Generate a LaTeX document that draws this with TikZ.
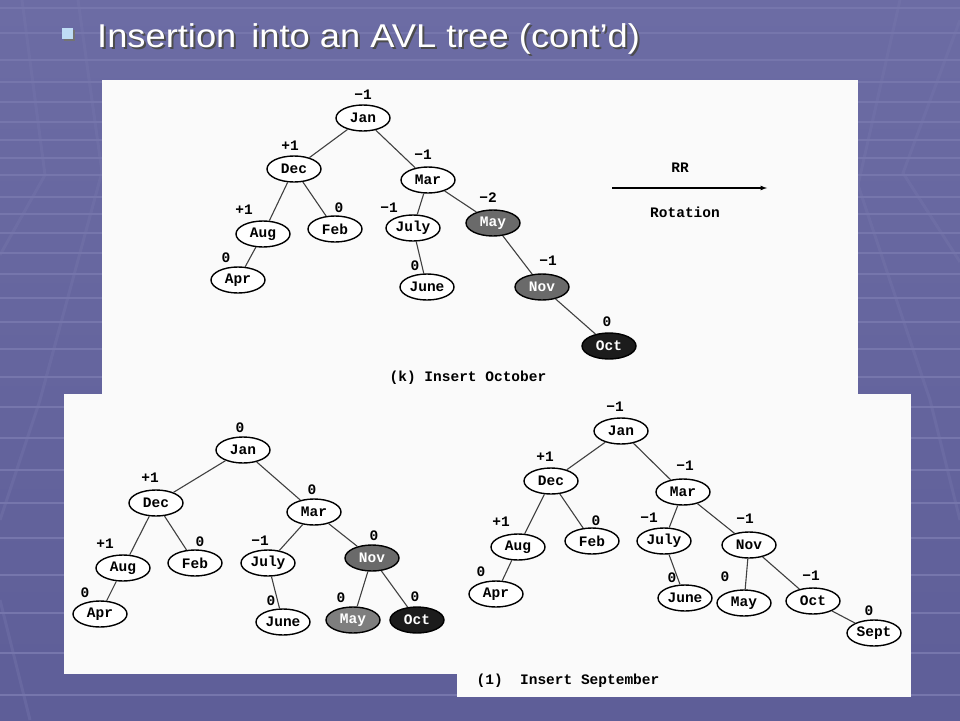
\documentclass[tikz,border=0pt]{standalone}
\usepackage{fontspec}
\setmainfont{Liberation Sans}
\newfontfamily\scanfont{Liberation Mono}
\newfontfamily\titlefont{Liberation Sans}[FakeStretch=1.1]
\usetikzlibrary{%
  arrows,%
  shapes.geometric%
}
\definecolor{bgtop}{HTML}{6C6CA4}
\definecolor{bgmid}{HTML}{4E4E80}
\definecolor{bgbot}{HTML}{5E5E98}
\definecolor{bgline}{HTML}{7676AC}
\definecolor{bulletblue}{HTML}{BFDDF5}
\definecolor{paper}{HTML}{FAFAFA}
\definecolor{scangrey}{HTML}{6A6A6A}
\definecolor{scanlight}{HTML}{7E7E7E}
\definecolor{scanblack}{HTML}{1C1C1C}
\definecolor{branchgrey}{HTML}{404040}

\begin{document}
\begin{tikzpicture}[x=1pt,y=-1pt,
  avlnode/.style={draw,ellipse,line width=1.4pt,minimum width=54pt,
    minimum height=26pt,inner sep=0pt,fill=white,
    font=\scanfont\bfseries\fontsize{14.5}{14.5}\selectfont},
  greynode/.style={avlnode,fill=scangrey,text=white},
  lightnode/.style={avlnode,fill=scanlight,text=white},
  blacknode/.style={avlnode,fill=scanblack,text=white},
  balance/.style={inner sep=0pt,font=\scanfont\bfseries\fontsize{14.5}{14.5}\selectfont},
  branch/.style={draw=branchgrey,line width=1.1pt},
  stripe/.style={bgline,line width=1.2pt},
  chevron/.style={bgline,line width=3pt,opacity=0.4}]
  \useasboundingbox (0,0) rectangle (960,720);

  % slide background
  \shade[top color=bgtop,middle color=bgmid,bottom color=bgbot] (0,0) rectangle (960,720);
  \foreach \y in {8,33,60,82,102,122,140,158,175,197,214,233,253,274,298,322,349,377,
    407,438,470,503,538,575,613,653,695}
    \draw[stripe] (0,\y) -- (960,\y);
  \draw[chevron] (22,0) -- (45,175) -- (0,255);
  \draw[chevron] (78,0) -- (102,172) -- (40,400) -- (0,520);
  \draw[chevron] (960,20) -- (903,173) -- (960,262);
  \draw[chevron] (900,0) -- (858,185) -- (930,400) -- (960,520);
  \draw[chevron] (0,600) -- (30,720);

  % title
  \node[fill=black!55,minimum size=11pt,inner sep=0pt] (bulletshadow) at (69.5,35.5) {};
  \node[fill=bulletblue,minimum size=11pt,inner sep=0pt] (bullet) at (67.5,33.5) {};
  \node[anchor=base west,inner sep=0pt,text=black!70,
    font=\titlefont\fontsize{33}{40}\selectfont] (titleshadow) at (99,49)
  {Insertion\hspace{0.45em}into an AVL tree (cont’d)};
  \node[anchor=base west,inner sep=0pt,text=white,
    font=\titlefont\fontsize{33}{40}\selectfont] (title) at (97,47)
  {Insertion\hspace{0.45em}into an AVL tree (cont’d)};

  % (k) insert October
  \fill[paper] (102,80) rectangle (858,394);
  \node[avlnode] (kJan) at (363,118) {Jan};
  \node[avlnode] (kDec) at (294,169) {Dec};
  \node[avlnode] (kMar) at (428,180) {Mar};
  \node[avlnode] (kAug) at (263,234) {Aug};
  \node[avlnode] (kFeb) at (335,229) {Feb};
  \node[avlnode] (kJuly) at (413,228) {July};
  \node[avlnode] (kApr) at (238,280) {Apr};
  \node[avlnode] (kJune) at (427,287) {June};
  \node[greynode] (kMay) at (493,223) {May};
  \node[greynode] (kNov) at (542,287) {Nov};
  \node[blacknode] (kOct) at (609,346) {Oct};
  \draw[branch] (kJan) -- (kDec);
  \draw[branch] (kJan) -- (kMar);
  \draw[branch] (kDec) -- (kAug);
  \draw[branch] (kDec) -- (kFeb);
  \draw[branch] (kAug) -- (kApr);
  \draw[branch] (kMar) -- (kJuly);
  \draw[branch] (kMar) -- (kMay);
  \draw[branch] (kJuly) -- (kJune);
  \draw[branch] (kMay) -- (kNov);
  \draw[branch] (kNov) -- (kOct);
  \node[balance] (kJanB) at (363,95) {−1};
  \node[balance] (kDecB) at (290,146) {+1};
  \node[balance] (kMarB) at (423,155) {−1};
  \node[balance] (kAugB) at (244,210) {+1};
  \node[balance] (kFebB) at (339,208) {0};
  \node[balance] (kJulyB) at (389,208) {−1};
  \node[balance] (kAprB) at (226,258) {0};
  \node[balance] (kJuneB) at (415,266) {0};
  \node[balance] (kMayB) at (488,198) {−2};
  \node[balance] (kNovB) at (548,261) {−1};
  \node[balance] (kOctB) at (607,322) {0};
  \coordinate (rrA) at (612,188);
  \coordinate (rrB) at (767,188);
  \draw[line width=1.2pt,-latex] (rrA) -- (rrB);
  \node[balance] (rr) at (680,168) {RR};
  \node[balance] (rot) at (685,212) {Rotation};
  \node[balance] (kcap) at (468,378) {(k) Insert October};

  % after the rotation
  \fill[paper] (64,394) rectangle (457,674);
  \node[avlnode] (mJan) at (243,450) {Jan};
  \node[avlnode] (mDec) at (156,503) {Dec};
  \node[avlnode] (mMar) at (314,512) {Mar};
  \node[avlnode] (mAug) at (123,568) {Aug};
  \node[avlnode] (mFeb) at (195,563) {Feb};
  \node[avlnode] (mJuly) at (268,563) {July};
  \node[greynode] (mNov) at (372,558) {Nov};
  \node[avlnode] (mApr) at (100,614) {Apr};
  \node[avlnode] (mJune) at (283,622) {June};
  \node[lightnode] (mMay) at (353,620) {May};
  \node[blacknode] (mOct) at (417,620) {Oct};
  \draw[branch] (mJan) -- (mDec);
  \draw[branch] (mJan) -- (mMar);
  \draw[branch] (mDec) -- (mAug);
  \draw[branch] (mDec) -- (mFeb);
  \draw[branch] (mAug) -- (mApr);
  \draw[branch] (mMar) -- (mJuly);
  \draw[branch] (mMar) -- (mNov);
  \draw[branch] (mJuly) -- (mJune);
  \draw[branch] (mNov) -- (mMay);
  \draw[branch] (mNov) -- (mOct);
  \node[balance] (mJanB) at (240,428) {0};
  \node[balance] (mDecB) at (150,478) {+1};
  \node[balance] (mMarB) at (312,490) {0};
  \node[balance] (mAugB) at (105,544) {+1};
  \node[balance] (mFebB) at (200,542) {0};
  \node[balance] (mJulyB) at (260,541) {−1};
  \node[balance] (mNovB) at (374,536) {0};
  \node[balance] (mAprB) at (85,593) {0};
  \node[balance] (mJuneB) at (271,601) {0};
  \node[balance] (mMayB) at (341,598) {0};
  \node[balance] (mOctB) at (415,597) {0};

  % (l) insert September
  \fill[paper] (457,394) rectangle (911,697);
  \node[avlnode] (lJan) at (621,431) {Jan};
  \node[avlnode] (lDec) at (551,481) {Dec};
  \node[avlnode] (lMar) at (683,492) {Mar};
  \node[avlnode] (lAug) at (518,547) {Aug};
  \node[avlnode] (lFeb) at (592,541) {Feb};
  \node[avlnode] (lJuly) at (664,541) {July};
  \node[avlnode] (lNov) at (749,545) {Nov};
  \node[avlnode] (lApr) at (496,594) {Apr};
  \node[avlnode] (lJune) at (685,598) {June};
  \node[avlnode] (lMay) at (744,603) {May};
  \node[avlnode] (lOct) at (813,601) {Oct};
  \node[avlnode] (lSept) at (874,633) {Sept};
  \draw[branch] (lJan) -- (lDec);
  \draw[branch] (lJan) -- (lMar);
  \draw[branch] (lDec) -- (lAug);
  \draw[branch] (lDec) -- (lFeb);
  \draw[branch] (lAug) -- (lApr);
  \draw[branch] (lMar) -- (lJuly);
  \draw[branch] (lMar) -- (lNov);
  \draw[branch] (lJuly) -- (lJune);
  \draw[branch] (lNov) -- (lMay);
  \draw[branch] (lNov) -- (lOct);
  \draw[branch] (lOct) -- (lSept);
  \node[balance] (lJanB) at (615,407) {−1};
  \node[balance] (lDecB) at (545,457) {+1};
  \node[balance] (lMarB) at (685,466) {−1};
  \node[balance] (lAugB) at (501,522) {+1};
  \node[balance] (lFebB) at (596,521) {0};
  \node[balance] (lJulyB) at (649,518) {−1};
  \node[balance] (lNovB) at (745,519) {−1};
  \node[balance] (lAprB) at (481,572) {0};
  \node[balance] (lJuneB) at (672,578) {0};
  \node[balance] (lMayB) at (725,577) {0};
  \node[balance] (lOctB) at (811,576) {−1};
  \node[balance] (lSeptB) at (869,611) {0};
  \node[balance] (lcap) at (568,681) {(1)\ \ Insert September};
\end{tikzpicture}
\end{document}
